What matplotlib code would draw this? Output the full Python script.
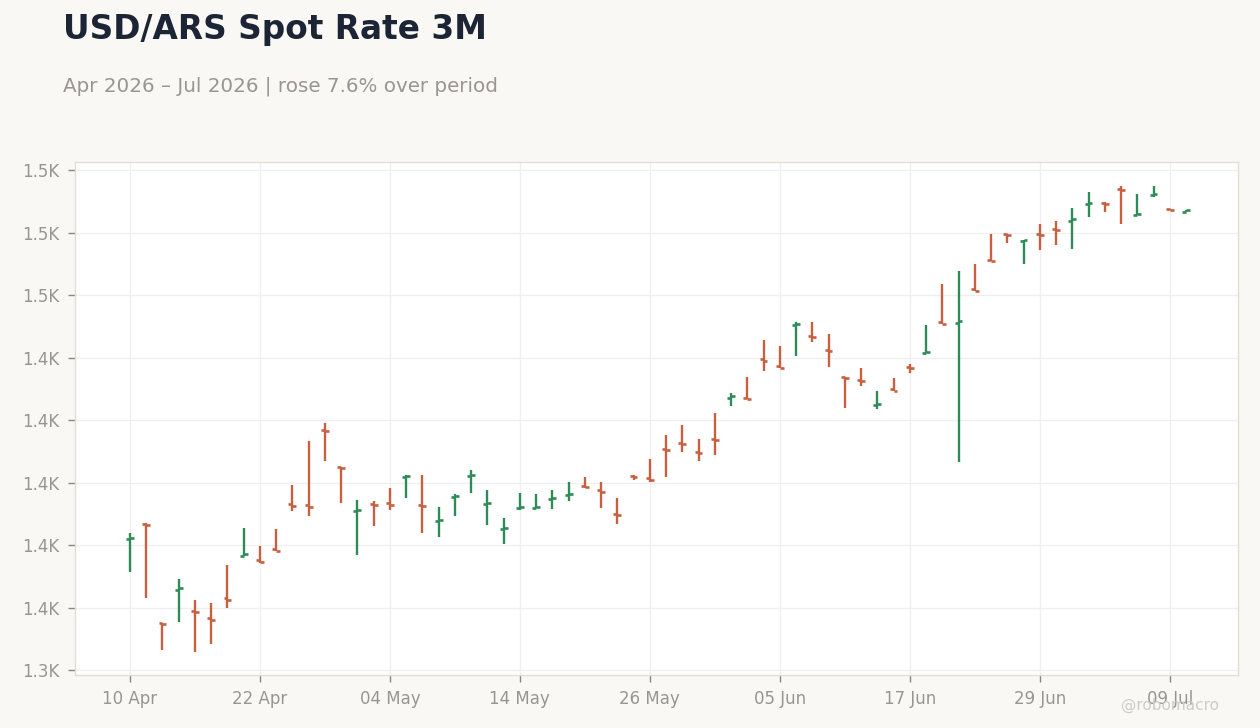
import matplotlib
matplotlib.use("Agg")
import matplotlib.pyplot as plt
import pandas as pd
import numpy as np
from matplotlib.ticker import FuncFormatter, FixedLocator

# ---- data ----
dates = pd.bdate_range("2026-04-10", "2026-07-10")
highs = [1383.7, 1386.9, 1354.9, 1369.1, 1362.4, 1361.4, 1373.6, 1385.4, 1379.7, 1385.1,
         1399.2, 1413.3, 1419.0, 1404.9, 1394.4, 1394.1, 1398.2, 1402.5, 1402.4, 1392.2,
         1396.2, 1404.0, 1397.6, 1388.6, 1396.6, 1396.3, 1397.6, 1400.2, 1401.8, 1400.2,
         1395.0, 1402.3, 1407.5, 1415.2, 1418.4, 1413.9, 1422.2, 1428.8, 1433.8, 1445.6,
         1443.7, 1451.4, 1451.4, 1447.5, 1433.8, 1436.6, 1429.3, 1433.4, 1437.8, 1450.4,
         1463.5, 1467.7, 1470.1, 1479.5, 1479.5, 1477.6, 1482.7, 1483.7, 1487.8, 1493.0,
         1489.8, 1494.9, 1492.3, 1494.9, 1487.7, 1487.1]
lows = [1371.5, 1363.1, 1346.5, 1355.5, 1345.9, 1348.4, 1359.9, 1376.6, 1374.4, 1378.2,
        1391.0, 1389.4, 1407.0, 1393.5, 1376.7, 1386.2, 1391.3, 1395.1, 1384.0, 1382.7,
        1389.4, 1396.5, 1386.5, 1380.4, 1391.1, 1391.8, 1391.6, 1394.2, 1398.2, 1392.0,
        1386.8, 1400.9, 1400.3, 1401.9, 1409.9, 1407.0, 1408.9, 1424.6, 1426.6, 1435.8,
        1436.8, 1440.6, 1445.1, 1437.1, 1424.0, 1431.0, 1423.6, 1429.4, 1435.1, 1441.4,
        1450.9, 1406.7, 1461.4, 1470.8, 1476.8, 1470.0, 1474.4, 1476.0, 1474.7, 1485.0,
        1486.6, 1482.9, 1485.7, 1491.3, 1487.3, 1486.7]
opens = [1381.8, 1386.8, 1354.9, 1365.7, 1358.9, 1356.5, 1362.9, 1376.6, 1375.1, 1378.6,
         1393.0, 1392.7, 1416.8, 1404.9, 1390.8, 1393.1, 1393.3, 1401.8, 1392.9, 1387.6,
         1395.3, 1402.0, 1393.0, 1385.0, 1391.9, 1391.8, 1394.6, 1395.9, 1398.9, 1397.5,
         1389.9, 1402.1, 1401.3, 1410.7, 1412.7, 1409.7, 1413.9, 1427.2, 1427.0, 1439.4,
         1437.2, 1450.3, 1446.9, 1442.4, 1433.8, 1432.8, 1424.7, 1429.8, 1437.1, 1441.4,
         1451.3, 1451.2, 1461.8, 1471.2, 1479.5, 1477.2, 1479.5, 1481.3, 1483.8, 1489.2,
         1489.4, 1494.0, 1485.7, 1491.9, 1487.7, 1486.7]
closes = [1382.2, 1386.4, 1354.6, 1366.1, 1358.5, 1356.1, 1362.5, 1377.0, 1374.7, 1378.2,
          1392.6, 1392.3, 1416.4, 1404.5, 1391.2, 1392.7, 1392.9, 1402.2, 1392.5, 1388.0,
          1395.7, 1402.4, 1393.4, 1385.4, 1392.3, 1392.2, 1395.0, 1396.3, 1398.5, 1397.1,
          1389.5, 1401.7, 1400.9, 1410.3, 1412.3, 1409.3, 1413.5, 1427.6, 1426.6, 1439.0,
          1436.8, 1450.7, 1446.5, 1442.0, 1433.4, 1432.4, 1425.1, 1429.4, 1436.7, 1441.8,
          1450.9, 1451.6, 1461.4, 1470.8, 1479.1, 1477.6, 1479.1, 1480.9, 1484.2, 1489.6,
          1489.0, 1493.6, 1486.1, 1492.3, 1487.3, 1487.1]
yticks = [1340, 1360, 1380, 1400, 1420, 1440, 1460, 1480, 1500]

title = "USD/ARS Spot Rate 3M"
subtitle = "Apr 2026 – Jul 2026 | rose 7.6% over period"

UP = "#2E8B57"
DOWN = "#C8603F"
BG = "#F9F8F5"

fig = plt.figure(figsize=(12.6, 7.28), dpi=100, facecolor=BG)
ax = fig.add_axes([75/1260, 1-675/728, (1238-75)/1260, (675-162)/728])
ax.set_facecolor("white")

x = np.arange(len(dates))
cols = [UP if c >= o else DOWN for o, c in zip(opens, closes)]
tw = 0.24
ax.vlines(x, lows, highs, colors=cols, linewidth=1.7, zorder=3)
ax.hlines(opens, x - tw, x, colors=cols, linewidth=1.9, zorder=3)
ax.hlines(closes, x, x + tw, colors=cols, linewidth=1.9, zorder=3)

ax.set_xlim(-3.38, 68.2)
ax.set_ylim(1338.4, 1502.6)

tick_idx = list(range(0, len(dates), 8))
ax.xaxis.set_major_locator(FixedLocator(tick_idx))
ax.set_xticklabels([dates[i].strftime("%d %b") for i in tick_idx])
ax.yaxis.set_major_locator(FixedLocator(yticks))
ax.yaxis.set_major_formatter(FuncFormatter(lambda v, p: f"{v/1000:.1f}K"))

ax.grid(True, color="#EFEFEF", linewidth=0.9, zorder=0)
ax.set_axisbelow(True)
for s in ax.spines.values():
    s.set_color("#E2DDD5")
    s.set_linewidth(1.0)
ax.tick_params(axis="both", colors="#8A8580", labelcolor="#9A9590", labelsize=12,
               length=5, width=1, pad=6)

fig.text(63/1260, 1-29/728, title, fontsize=23.6, fontweight="bold", color="#1C2536",
         ha="left", va="center")
fig.text(63/1260, 1-86/728, subtitle, fontsize=14.3, color="#9A9590", ha="left", va="center")
fig.text(1170/1260, 1-705/728, "@robomacro", fontsize=11, color="#CFCCC8", ha="center", va="center")

fig.savefig("out.png", dpi=100, facecolor=BG)
